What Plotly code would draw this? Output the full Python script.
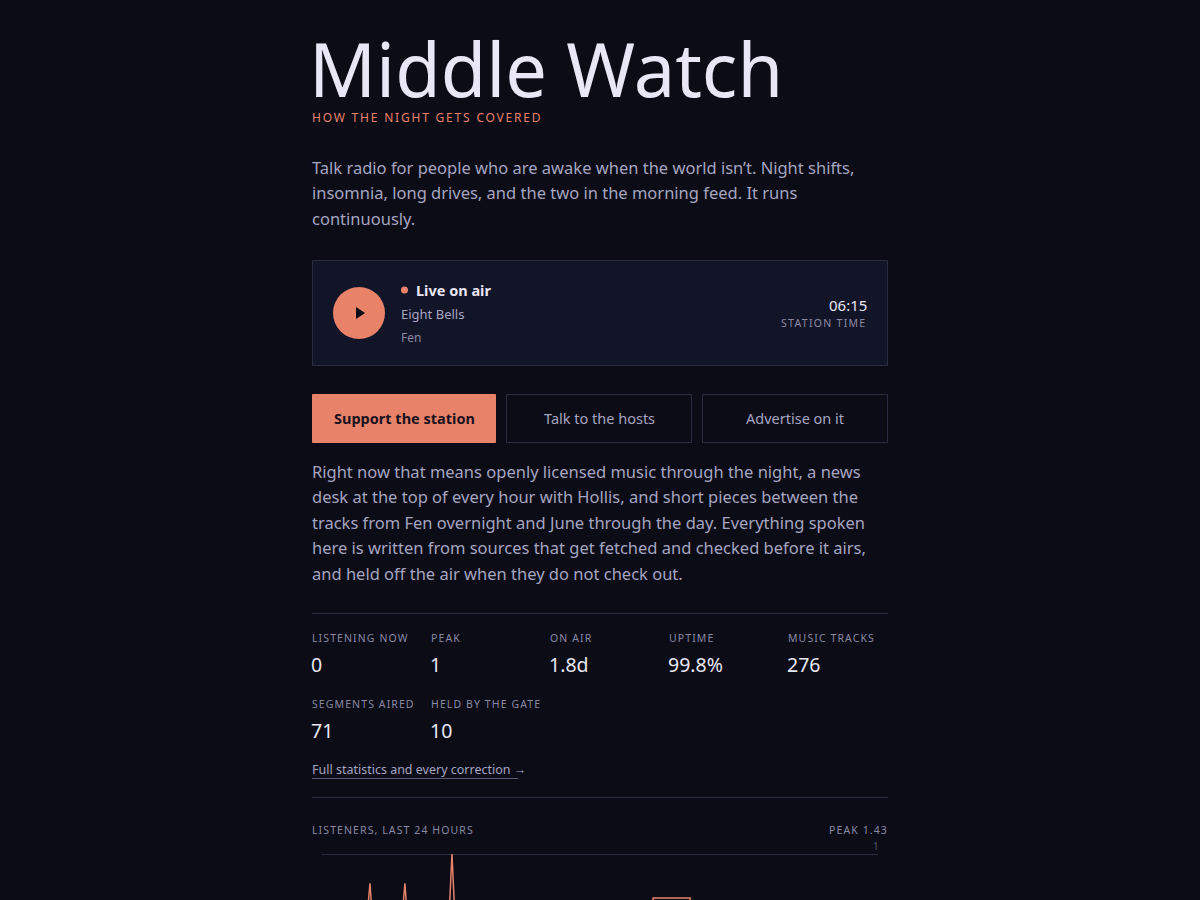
import plotly.graph_objects as go

# ---- data ----
hours = [0, 1.8, 2.07, 2.3, 3.3, 3.58, 3.8, 5.4, 5.61, 5.82, 14.29, 14.29, 15.89, 15.89, 24]
listeners = [0, 0, 0.72, 0, 0, 0.72, 0, 0, 1.0, 0, 0, 0.58, 0.58, 0, 0]
peak_label = "PEAK 1.43"
stat_labels = ["LISTENING NOW", "PEAK", "ON AIR", "UPTIME", "MUSIC TRACKS", "SEGMENTS AIRED", "HELD BY THE GATE"]
stat_values = ["0", "1", "1.8d", "99.8%", "276", "71", "10"]
button_labels = ["Support the station", "Talk to the hosts", "Advertise on it"]
intro = ["Talk radio for people who are awake when the world isn\u2019t. Night shifts,",
         "insomnia, long drives, and the two in the morning feed. It runs",
         "continuously."]
body = ["Right now that means openly licensed music through the night, a news",
        "desk at the top of every hour with Hollis, and short pieces between the",
        "tracks from Fen overnight and June through the day. Everything spoken",
        "here is written from sources that get fetched and checked before it airs,",
        "and held off the air when they do not check out."]

W, H = 1200, 900
BG = "#0b0c16"
TXT = "#e9e7f5"
MUTED = "#a6a5c0"
DIM = "#8a89a3"
ACC = "#e8836a"
LINE = "#2a2c42"
FONT = "Noto Sans"

def px(x): return x / W
def py(y): return 1 - y / H

ann = []
shapes = []

def text(x, y, s, size, color, xanchor="left", bold=False, spacing=None):
    if bold:
        s = "<b>" + s + "</b>"
    if spacing:
        s = '<span style="letter-spacing:%spx">%s</span>' % (spacing, s)
    if xanchor == "left":
        x -= 2
    elif xanchor == "right":
        x += 2
    ann.append(dict(x=px(x), y=py(y), xref="paper", yref="paper", text=s, showarrow=False,
                    xanchor=xanchor, yanchor="middle", font=dict(family=FONT, size=size, color=color)))

def rect(x0, y0, x1, y1, fill=None, line=None):
    shapes.append(dict(type="rect", xref="paper", yref="paper", x0=px(x0), x1=px(x1), y0=py(y1), y1=py(y0),
                       fillcolor=fill or "rgba(0,0,0,0)", line=dict(color=line or "rgba(0,0,0,0)", width=1), layer="below"))

def hline(x0, x1, y, color=LINE):
    shapes.append(dict(type="line", xref="paper", yref="paper", x0=px(x0), x1=px(x1), y0=py(y), y1=py(y),
                       line=dict(color=color, width=1)))

text(309, 68, "Middle Watch", 74, TXT)
text(312, 117, "HOW THE NIGHT GETS COVERED", 12, ACC, spacing=1.8)
for i, l in enumerate(intro):
    text(312, 167 + i * 25.5, l, 16.5, MUTED)

# card
rect(312.5, 260.5, 887.5, 365.5, fill="#121428", line=LINE)
shapes.append(dict(type="circle", xref="paper", yref="paper", x0=px(333), x1=px(385), y0=py(339), y1=py(287),
                   fillcolor=ACC, line=dict(width=0)))
shapes.append(dict(type="path", xref="paper", yref="paper",
                   path="M %f %f L %f %f L %f %f Z" % (px(356), py(307), px(356), py(319), px(365), py(313)),
                   fillcolor="#0b0c16", line=dict(width=0)))
shapes.append(dict(type="circle", xref="paper", yref="paper", x0=px(401), x1=px(408), y0=py(293.5), y1=py(286.5),
                   fillcolor=ACC, line=dict(width=0)))
text(416, 290, "Live on air", 14.5, TXT, bold=True)
text(401, 314, "Eight Bells", 13, MUTED)
text(401, 337, "Fen", 12, DIM)
text(867, 305, "06:15", 15, TXT, xanchor="right")
text(867, 323, "STATION TIME", 10.5, DIM, xanchor="right", spacing=1.3)

# buttons
bx = [(312.5, 495.5), (506.5, 691.5), (702.5, 887.5)]
for i, (a, b) in enumerate(bx):
    if i == 0:
        rect(a, 394.5, b, 442.5, fill=ACC, line=ACC)
        text((a + b) / 2, 418, button_labels[i], 14.5, "#1a1220", xanchor="center", bold=True)
    else:
        rect(a, 394.5, b, 442.5, fill=BG, line=LINE)
        text((a + b) / 2, 418, button_labels[i], 14.5, MUTED, xanchor="center")

for i, l in enumerate(body):
    text(312, 471 + i * 25.5, l, 16.5, MUTED)

hline(312, 888, 613.5)
cols = [312, 431, 550, 669, 788]
for i, (lab, val) in enumerate(zip(stat_labels, stat_values)):
    r, c = divmod(i, 5)
    text(cols[c], 638 + r * 66, lab, 10.5, DIM, spacing=1.1)
    text(cols[c] - 1, 664 + r * 66, val, 19.5, TXT)
text(312, 769, "Full statistics and every correction \u2192", 12.5, MUTED)
hline(312, 518, 778.5, "#5a5a74")
hline(312, 888, 797.5)
text(312, 830, "LISTENERS, LAST 24 HOURS", 10.5, DIM, spacing=1.1)
text(888, 830, peak_label, 10.5, DIM, xanchor="right", spacing=1.1)
text(879, 846, "1", 10, "#55556e", xanchor="right")

fig = go.Figure(go.Scatter(x=hours, y=listeners, mode="lines", line=dict(color=ACC, width=1.5),
                           hoverinfo="skip", cliponaxis=False))
fig.update_layout(
    width=W, height=H, margin=dict(l=0, r=0, t=0, b=0),
    paper_bgcolor=BG, plot_bgcolor="rgba(0,0,0,0)", showlegend=False,
    xaxis=dict(domain=[px(322), px(878)], range=[0, 24], visible=False, fixedrange=True),
    yaxis=dict(domain=[0, 48 / H], range=[0.56, 1.02], showgrid=True, gridcolor=LINE,
               tickvals=[1], showticklabels=False, zeroline=False, fixedrange=True),
    annotations=ann, shapes=shapes,
)
fig.write_html("out.html", config={"displayModeBar": False},
               post_script="document.body.style.margin='0';document.body.style.background='#0b0c16';document.body.style.overflow='hidden';")
